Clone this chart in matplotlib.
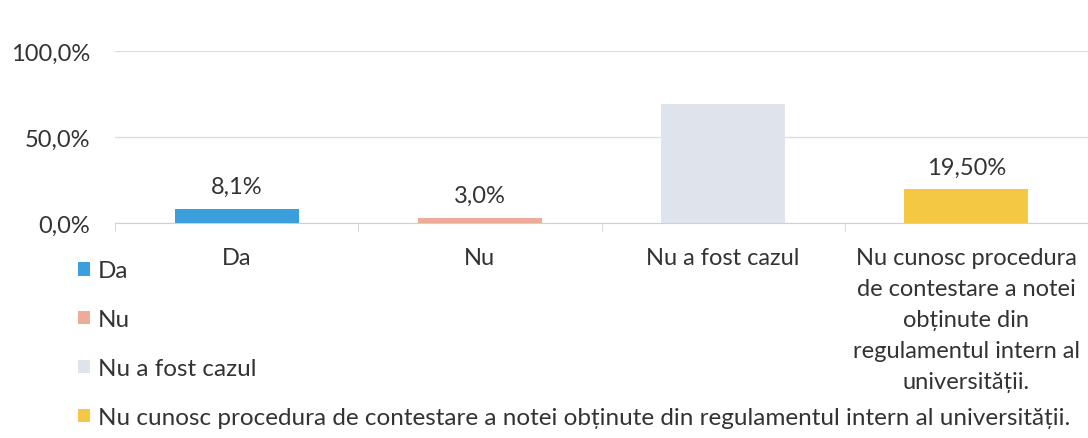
import matplotlib
matplotlib.use('Agg')
from matplotlib import pyplot as plt
import numpy as np

categories = ['Da', 'Nu', 'Nu a fost cazul',
              'Nu cunosc procedura de contestare a notei obținute din regulamentul intern al universității.']
tick_labels = ['Da', 'Nu', 'Nu a fost cazul',
               'Nu cunosc procedura\nde contestare a notei\nobținute din\nregulamentul intern al\nuniversității.']
values = [8.1, 3.0, 69.4, 19.5]
value_labels = ['8,1%', '3,0%', '', '19,50%']
colors = ['#3a9fdc', '#eeab99', '#dfe3ec', '#f4c843']

plt.rcParams['font.family'] = ['Lato', 'DejaVu Sans']
plt.rcParams['font.size'] = 17.5

fig = plt.figure(figsize=(10.88, 4.39), dpi=100)
ax = fig.add_axes([0.1057, 0.4897, 0.8943, 0.3918])

x = np.arange(len(categories))
bars = ax.bar(x, values, width=0.51, color=colors, label=categories, zorder=3)

for b, lab in zip(bars, value_labels):
    if lab:
        ax.text(b.get_x() + b.get_width() / 2, b.get_height() + 7, lab,
                ha='center', va='bottom', color='#333333', fontsize=17)

ax.set_xlim(-0.5, len(categories) - 0.5)
ax.set_ylim(0, 100)
ax.set_yticks([0, 50, 100])
ax.set_yticklabels(['0,0%', '50,0%', '100,0%'], fontsize=17)
ax.grid(axis='y', color='#dcdcdc', linewidth=0.9, zorder=0)

ax.set_xticks(x)
ax.set_xticklabels(tick_labels, linespacing=1.6, fontsize=17)
ax.set_xticks(np.arange(-0.5, len(categories)), minor=True)
ax.tick_params(axis='x', which='major', length=0, pad=17, colors='#333333')
ax.tick_params(axis='x', which='minor', length=6, color='#d0d0d0')
ax.tick_params(axis='y', length=0, pad=18, colors='#333333')

for s in ['top', 'right', 'left']:
    ax.spines[s].set_visible(False)
ax.spines['bottom'].set_color('#d0d0d0')

fig.legend(handles=bars, labels=categories, loc='upper left',
           bbox_to_anchor=(0.072, 0.405), frameon=False,
           handlelength=0.5, handleheight=0.5, handletextpad=0.3,
           labelspacing=1.15, labelcolor='#333333',
           borderaxespad=0, borderpad=0)

fig.savefig('out.png', dpi=100)
